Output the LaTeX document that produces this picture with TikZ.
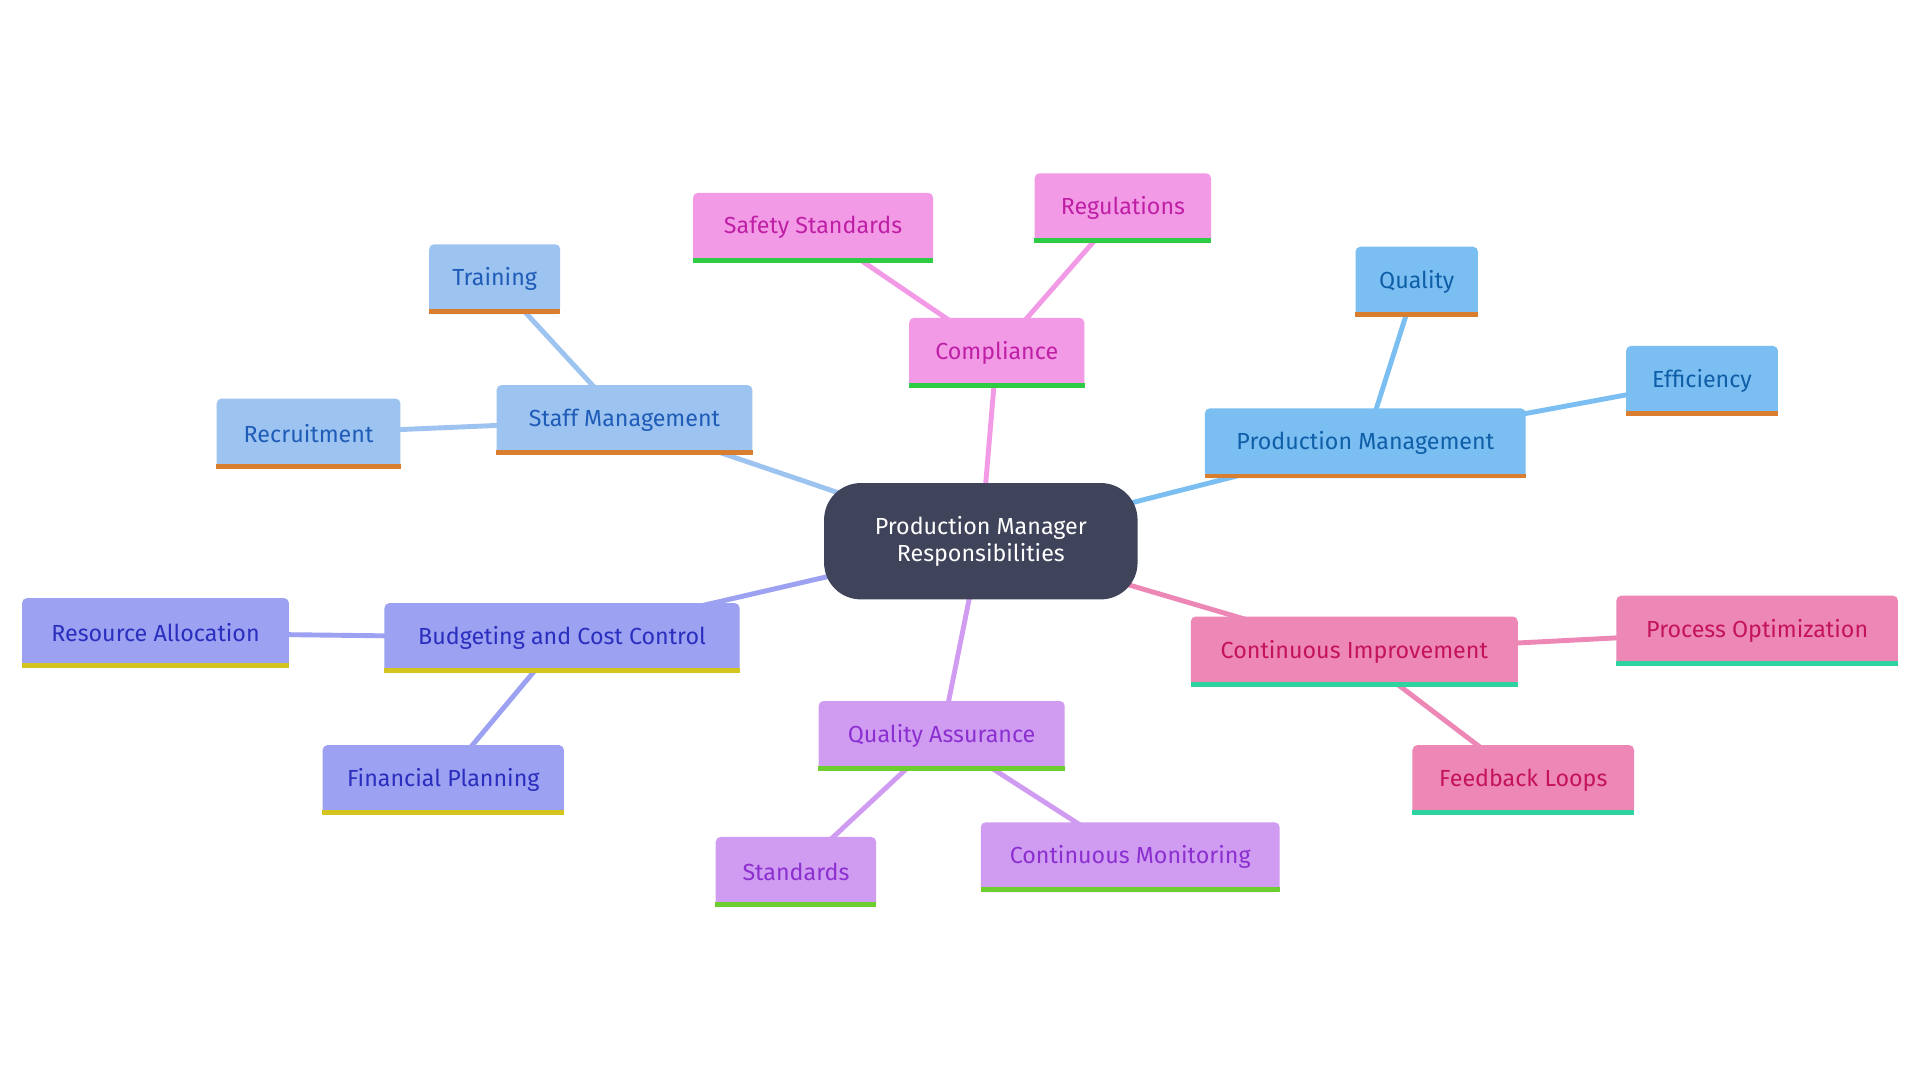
\documentclass[tikz,border=0pt]{standalone}
\usepackage{fontspec}
\setmainfont{Fira Sans}
\begin{document}
\begin{tikzpicture}[x=1pt,y=-1pt]
\definecolor{cst}{HTML}{9DC3F0}\definecolor{tst}{HTML}{1E5CB8}
\definecolor{ccp}{HTML}{F39AE7}\definecolor{tcp}{HTML}{BE1FA5}
\definecolor{cpm}{HTML}{7BBEF1}\definecolor{tpm}{HTML}{0F5FA8}
\definecolor{cci}{HTML}{EC87B6}\definecolor{tci}{HTML}{C4125C}
\definecolor{cqa}{HTML}{D09CF1}\definecolor{tqa}{HTML}{8B2FD0}
\definecolor{cbc}{HTML}{9CA1F1}\definecolor{tbc}{HTML}{2A2EBE}
\definecolor{borange}{HTML}{D97E2E}\definecolor{bgreen}{HTML}{2ECC44}
\definecolor{bteal}{HTML}{2ED3A0}\definecolor{blime}{HTML}{6CCF2E}
\definecolor{byellow}{HTML}{D4C420}
\tikzset{
 box/.style={rounded corners=4pt,minimum height=57pt,inner sep=0pt,font=\fontsize{19}{22}\selectfont},
 edge/.style={line width=4pt}}
\useasboundingbox (0,0) rectangle (1568,882);
\fill[white] (0,0) rectangle (1568,882);
\newcommand{\mnode}[8]{% name cx cy w fill text bar label
 \node[box,fill=#5,text=#6,minimum width=#4pt] (#1) at (#2,#3) {#8};
 \draw[#7,line width=4pt] ([yshift=2pt]#1.south west) -- ([yshift=2pt]#1.south east);}
\coordinate (c) at (801,442);
% edges
\coordinate (st) at (510,343); \coordinate (tr) at (404,228); \coordinate (re) at (252,354);
\coordinate (cp) at (814,288); \coordinate (ss) at (664,186); \coordinate (rg) at (917,170);
\coordinate (pm) at (1115,362); \coordinate (ql) at (1157,230); \coordinate (ef) at (1390,311);
\coordinate (ci) at (1106,532); \coordinate (po) at (1435,515); \coordinate (fl) at (1244,637);
\coordinate (qa) at (769,601); \coordinate (sd) at (650,712); \coordinate (cm) at (923,700);
\coordinate (bc) at (459,521); \coordinate (ra) at (127,517); \coordinate (fp) at (362,637);
\draw[edge,cst] (c)--(st) (st)--(tr) (st)--(re);
\draw[edge,ccp] (c)--(cp) (cp)--(ss) (cp)--(rg);
\draw[edge,cpm] (c)--(pm) (pm)--(ql) (pm)--(ef);
\draw[edge,cci] (c)--(ci) (ci)--(po) (ci)--(fl);
\draw[edge,cqa] (c)--(qa) (qa)--(sd) (qa)--(cm);
\draw[edge,cbc] (c)--(bc) (bc)--(ra) (bc)--(fp);
\node[fill={rgb,255:red,64;green,68;blue,90},rounded corners=30pt,minimum width=256pt,minimum height=95pt,text=white,align=center,font=\fontsize{19}{22}\selectfont] (center) at (c) {Production Manager\\Responsibilities};
\mnode{nst}{510}{343}{209}{cst}{tst}{borange}{Staff Management}
\mnode{ntr}{404}{228}{107}{cst}{tst}{borange}{Training}
\mnode{nre}{252}{354}{150}{cst}{tst}{borange}{Recruitment}
\mnode{ncp}{814}{288}{143}{ccp}{tcp}{bgreen}{Compliance}
\mnode{nss}{664}{186}{196}{ccp}{tcp}{bgreen}{Safety Standards}
\mnode{nrg}{917}{170}{144}{ccp}{tcp}{bgreen}{Regulations}
\mnode{npm}{1115}{362}{262}{cpm}{tpm}{borange}{Production Management}
\mnode{nql}{1157}{230}{100}{cpm}{tpm}{borange}{Quality}
\mnode{nef}{1390}{311}{124}{cpm}{tpm}{borange}{Efficiency}
\mnode{nci}{1106}{532}{267}{cci}{tci}{bteal}{Continuous Improvement}
\mnode{npo}{1435}{515}{230}{cci}{tci}{bteal}{Process Optimization}
\mnode{nfl}{1244}{637}{181}{cci}{tci}{bteal}{Feedback Loops}
\mnode{nqa}{769}{601}{201}{cqa}{tqa}{blime}{Quality Assurance}
\mnode{nsd}{650}{712}{131}{cqa}{tqa}{blime}{Standards}
\mnode{ncm}{923}{700}{244}{cqa}{tqa}{blime}{Continuous Monitoring}
\mnode{nbc}{459}{521}{290}{cbc}{tbc}{byellow}{Budgeting and Cost Control}
\mnode{nra}{127}{517}{218}{cbc}{tbc}{byellow}{Resource Allocation}
\mnode{nfp}{362}{637}{197}{cbc}{tbc}{byellow}{Financial Planning}
\end{tikzpicture}
\end{document}
